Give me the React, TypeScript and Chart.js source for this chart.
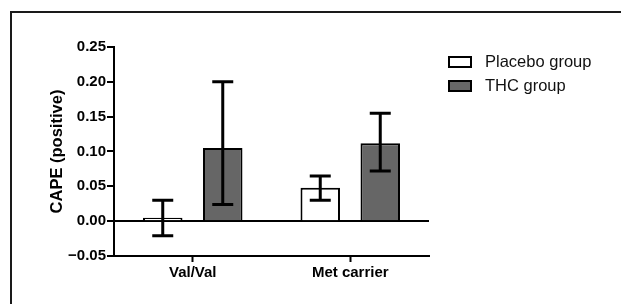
import React, { useEffect, useRef } from 'react';
import { Chart, registerables } from 'chart.js';

Chart.register(...registerables);

const categories = ['Val/Val', 'Met carrier'];
const seriesNames = ['Placebo group', 'THC group'];
const placeboMean = [0.005, 0.048];
const placeboHigh = [0.030, 0.065];
const placeboLow = [-0.021, 0.030];
const thcMean = [0.105, 0.112];
const thcHigh = [0.200, 0.155];
const thcLow = [0.024, 0.072];
const yTickValues = [-0.05, 0, 0.05, 0.1, 0.15, 0.2, 0.25];

const FONT = "'Liberation Sans', Arial, Helvetica, sans-serif";

const framePlugin = {
  id: 'frame',
  beforeDraw(chart: any) {
    const ctx = chart.ctx;
    ctx.save();
    ctx.fillStyle = '#1a1a1a';
    ctx.fillRect(10, 11, chart.width, 2);
    ctx.fillRect(10, 11, 2, chart.height);
    ctx.restore();
  },
};

const errorBarPlugin = {
  id: 'errorBars',
  afterDatasetsDraw(chart: any) {
    const ctx = chart.ctx;
    const y = chart.scales.y;
    chart.data.datasets.forEach((ds: any, i: number) => {
      const meta = chart.getDatasetMeta(i);
      meta.data.forEach((bar: any, j: number) => {
        const hi = y.getPixelForValue(ds.errHigh[j]);
        const lo = y.getPixelForValue(ds.errLow[j]);
        const half = 10.5;
        ctx.save();
        ctx.strokeStyle = '#000';
        ctx.lineWidth = 3;
        ctx.beginPath();
        ctx.moveTo(bar.x, hi);
        ctx.lineTo(bar.x, lo);
        ctx.moveTo(bar.x - half, hi);
        ctx.lineTo(bar.x + half, hi);
        ctx.moveTo(bar.x - half, lo);
        ctx.lineTo(bar.x + half, lo);
        ctx.stroke();
        ctx.restore();
      });
    });
  },
};

const legendPlugin = {
  id: 'customLegend',
  afterDraw(chart: any) {
    const ctx = chart.ctx;
    ctx.save();
    chart.data.datasets.forEach((ds: any, i: number) => {
      const top = 57 + i * 24;
      ctx.fillStyle = ds.backgroundColor;
      ctx.fillRect(449, top, 22, 10);
      ctx.strokeStyle = '#000';
      ctx.lineWidth = 2;
      ctx.strokeRect(449, top, 22, 10);
      ctx.fillStyle = '#111';
      ctx.font = `16.5px ${FONT}`;
      ctx.textBaseline = 'middle';
      ctx.textAlign = 'left';
      ctx.fillText(ds.label, 485, top + 5.5);
    });
    ctx.restore();
  },
};

export default function App() {
  const ref = useRef<HTMLCanvasElement>(null);

  useEffect(() => {
    if (!ref.current) return;
    const chart = new Chart(ref.current, {
      type: 'bar',
      data: {
        labels: categories,
        datasets: [
          {
            label: seriesNames[0],
            data: placeboMean,
            backgroundColor: '#ffffff',
            borderColor: '#000000',
            borderWidth: 2,
            errHigh: placeboHigh,
            errLow: placeboLow,
          } as any,
          {
            label: seriesNames[1],
            data: thcMean,
            backgroundColor: '#666666',
            borderColor: '#000000',
            borderWidth: 2,
            errHigh: thcHigh,
            errLow: thcLow,
          } as any,
        ],
      },
      options: {
        responsive: false,
        animation: false,
        categoryPercentage: 0.762,
        barPercentage: 0.658,
        layout: { padding: { left: 0, right: 192, top: 47, bottom: 0 } },
        plugins: {
          legend: { display: false },
          tooltip: { enabled: false },
        },
        scales: {
          x: {
            afterFit: (s: any) => {
              s.height = 48;
            },
            grid: {
              offset: false,
              drawOnChartArea: false,
              color: '#000',
              tickColor: '#000',
              tickLength: 6,
              tickWidth: 2,
            },
            border: { display: true, color: '#000', width: 2 },
            ticks: {
              color: '#000',
              padding: 2,
              font: { family: FONT, size: 15, weight: 'bold' },
            },
          },
          y: {
            min: -0.05,
            max: 0.25,
            afterFit: (s: any) => {
              s.width = 114;
            },
            afterBuildTicks: (s: any) => {
              s.ticks = yTickValues.map((v) => ({ value: v }));
            },
            grid: {
              color: (c: any) => (c.tick && Math.abs(c.tick.value) < 1e-9 ? '#000' : 'rgba(0,0,0,0)'),
              lineWidth: 2,
              tickColor: '#000',
              tickLength: 7,
              tickWidth: 2,
            },
            border: { display: true, color: '#000', width: 2 },
            ticks: {
              color: '#000',
              padding: 1,
              font: { family: FONT, size: 15, weight: 'bold' },
              callback: (v: any) => Number(v).toFixed(2).replace('-', '\u2212'),
            },
            title: {
              display: true,
              text: 'CAPE (positive)',
              color: '#000',
              font: { family: FONT, size: 16.5, weight: 'bold' },
              padding: { top: 48, bottom: 0 },
            },
          },
        },
      } as any,
      plugins: [framePlugin, errorBarPlugin, legendPlugin],
    });
    return () => chart.destroy();
  }, []);

  return (
    <div style={{ position: 'absolute', left: 0, top: 0, width: 621, height: 304 }}>
      <canvas ref={ref} width={621} height={304} />
    </div>
  );
}
